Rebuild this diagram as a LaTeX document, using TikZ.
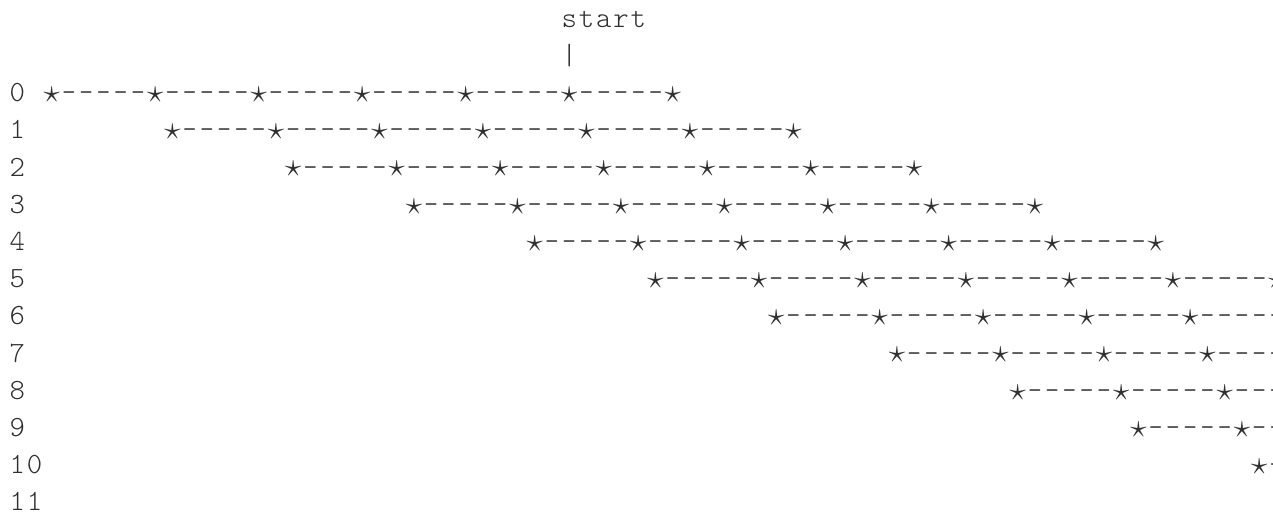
\documentclass[tikz,border=0pt]{standalone}
\usepackage{fontspec}
\definecolor{ink}{HTML}{303030}
\newcommand\cwid{12.94pt}
\newcommand\cc[1]{\makebox[\cwid][c]{#1}}
\newcommand\st{\makebox[\cwid][c]{\raisebox{-0.6pt}{\fontsize{23pt}{23pt}\selectfont$\star$}}}
\newcommand\dd{\makebox[\cwid][c]{\scalebox{0.92}[1]{-}}}
\newcommand\dashes{\dd\dd\dd\dd\dd}
\newcommand\chain{\st\dashes\st\dashes\st\dashes\st\dashes\st\dashes\st\dashes\st}
\tikzset{
  txt/.style={anchor=base west, inner sep=0pt, outer sep=0pt, text=ink,
    font=\ttfamily\fontseries{l}\fontsize{22pt}{27.9pt}\selectfont}
}
\begin{document}
\begin{tikzpicture}[x=0.75pt,y=-0.75pt]
\fill[white] (0,0) rectangle (1273,518);
\useasboundingbox (0,0) rectangle (1273,518);
\clip (0,0) rectangle (1273,518);
\node[txt] (start) at ({8.6+17.25*32},27.3) {\cc{s}\cc{t}\cc{a}\cc{r}\cc{t}};
\node[txt] (bar) at ({8.6+17.25*32},64.5) {\cc{|}};
\foreach \r in {0,...,9}{
  \node[txt] (lab\r) at (8.6,{101.7+37.2*\r}) {\cc{\r}};
}
\node[txt] (lab10) at (8.6,{101.7+37.2*10}) {\cc{1}\cc{0}};
\node[txt] (lab11) at (8.6,{101.7+37.2*11}) {\cc{1}\cc{1}};
\foreach \r in {0,...,10}{
  \node[txt] (chain\r) at ({8.6+17.25*(2+7*\r)},{101.7+37.2*\r}) {\chain};
}
\end{tikzpicture}
\end{document}
